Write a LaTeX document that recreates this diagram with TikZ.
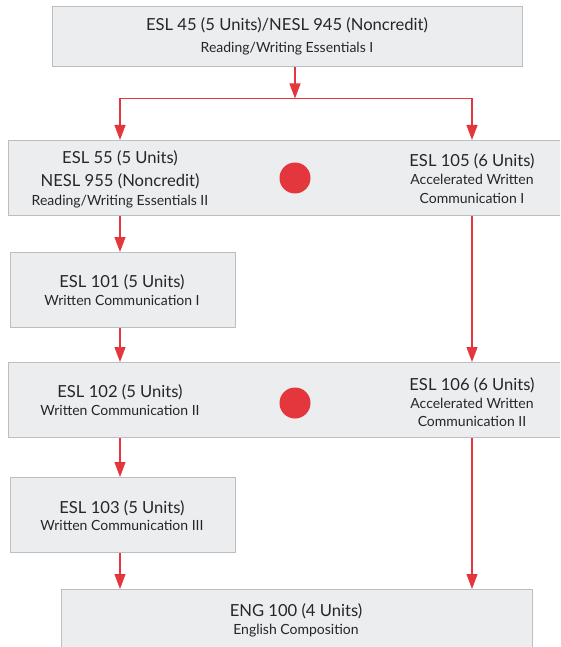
\documentclass[tikz,border=0pt]{standalone}
\usepackage{fontspec}
\setmainfont{Lato}
\usetikzlibrary{arrows.meta}
\definecolor{boxfill}{HTML}{ECEDEF}
\definecolor{boxline}{HTML}{BDBEC0}
\definecolor{flowred}{HTML}{E3363D}
\definecolor{textdark}{HTML}{262626}
\begin{document}
\begin{tikzpicture}[x=1pt,y=-1pt,
  box/.style={draw=boxline, fill=boxfill, line width=1.2pt, inner sep=0pt, anchor=north west},
  arr/.style={draw=flowred, line width=1.2pt, -{Triangle[length=15pt,width=11pt]}},
  link/.style={draw=flowred, line width=1.2pt},
  big/.style={font=\fontsize{16.6}{19}\selectfont, anchor=base, inner sep=0pt, text=textdark},
  small/.style={font=\fontsize{14}{16}\selectfont, anchor=base, inner sep=0pt, text=textdark},
  dot/.style={circle, fill=flowred, minimum size=31pt, inner sep=0pt}]
\useasboundingbox (0,0) rectangle (560,647);
\clip (0,0) rectangle (560,647);
% boxes
\node[box, minimum width=470pt, minimum height=60pt] (b1) at (52,6) {};
\node[box, minimum width=562pt, minimum height=75pt] (b2) at (8,140) {};
\node[box, minimum width=225pt, minimum height=75pt] (b3) at (10,252) {};
\node[box, minimum width=562pt, minimum height=75pt] (b4) at (8,362) {};
\node[box, minimum width=225pt, minimum height=75pt] (b5) at (10,477) {};
\node[box, minimum width=471pt, minimum height=81pt] (b6) at (61,589) {};
% dots
\node[dot] (d1) at (295,178) {};
\node[dot] (d2) at (295,403) {};
% texts
\node[big] (t1a) at (287,31) {ESL 45 (5 Units)/NESL 945 (Noncredit)};
\node[small] (t1b) at (287,53) {Reading/Writing Essentials I};
\node[big] (t2a) at (120,164) {ESL 55 (5 Units)};
\node[big] (t2b) at (120,186) {NESL 955 (Noncredit)};
\node[small] (t2c) at (120,205) {Reading/Writing Essentials II};
\node[big] (t2d) at (472,167) {ESL 105 (6 Units)};
\node[small] (t2e) at (472,184) {Accelerated Written};
\node[small] (t2f) at (472,203) {Communication I};
\node[big] (t3a) at (122,287) {ESL 101 (5 Units)};
\node[small] (t3b) at (122,305) {Written Communication I};
\node[big] (t4a) at (120,397) {ESL 102 (5 Units)};
\node[small] (t4b) at (120,415) {Written Communication II};
\node[big] (t4c) at (472,390) {ESL 106 (6 Units)};
\node[small] (t4d) at (472,408) {Accelerated Written};
\node[small] (t4e) at (472,426) {Communication II};
\node[big] (t5a) at (122,513) {ESL 103 (5 Units)};
\node[small] (t5b) at (122,530) {Written Communication III};
\node[big] (t6a) at (296,616.5) {ENG 100 (4 Units)};
\node[small] (t6b) at (296,634) {English Composition};
% connectors
\coordinate (split) at (295,98.5);
\coordinate (colL) at (120,0);
\coordinate (colR) at (472,0);
\draw[arr] (b1.south -| split) -- (split);
\draw[link] (split -| colL) -- (split -| colR);
\draw[arr] (split -| colL) -- (b2.north -| colL);
\draw[arr] (split -| colR) -- (b2.north -| colR);
\draw[arr] (b2.south -| colL) -- (b3.north -| colL);
\draw[arr] (b3.south -| colL) -- (b4.north -| colL);
\draw[arr] (b2.south -| colR) -- (b4.north -| colR);
\draw[arr] (b4.south -| colL) -- (b5.north -| colL);
\draw[arr] (b5.south -| colL) -- (b6.north -| colL);
\draw[arr] (b4.south -| colR) -- (b6.north -| colR);
\end{tikzpicture}
\end{document}
